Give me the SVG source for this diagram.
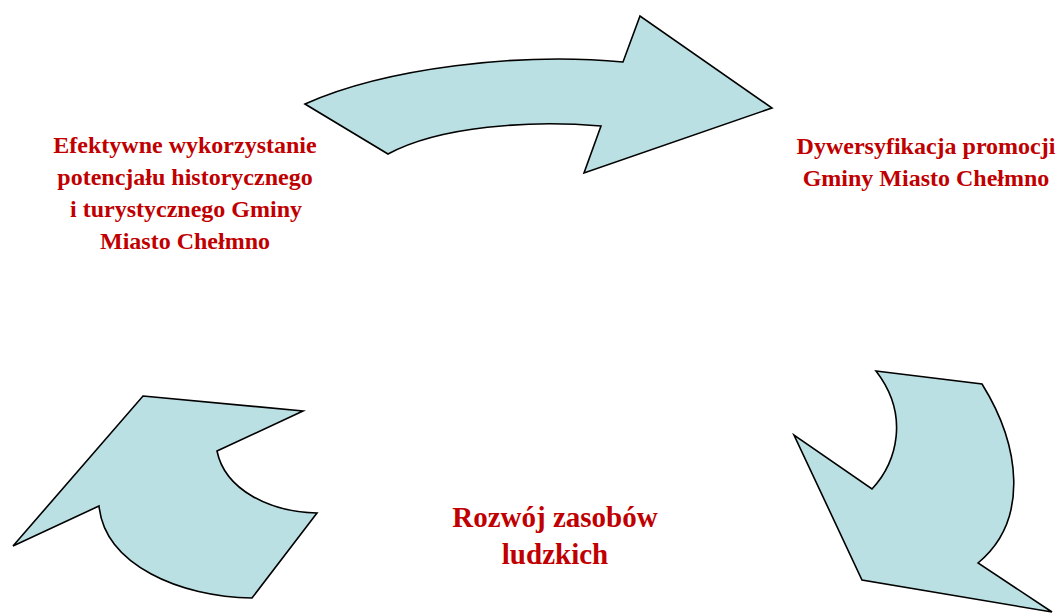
<svg xmlns="http://www.w3.org/2000/svg" width="1058" height="615" viewBox="0 0 1058 615">
<style>
.arrow{fill:#BBE0E3;stroke:#000;stroke-width:1.6;stroke-linejoin:miter}
.lbl{font-family:"Liberation Serif","Times New Roman",serif;font-weight:bold;fill:#C00000;text-anchor:middle}
.s{font-size:24px}
.l{font-size:29px}
</style>
<rect width="1058" height="615" fill="#fff"/>
<g id="connectors">
<path id="arrow-top" class="arrow" d="M305,104 C385,68 520,52 623,62 L640,16 L772,108 L584,173 L601,126 C530,120 440,126 388,154 Z"/>
<path id="arrow-right" class="arrow" d="M876,371 L982,384 C1020,445 1030,520 978,563 L1052,612 L862,580 L794,435 L872,489 C897,462 910,415 876,371 Z"/>
<path id="arrow-left" class="arrow" d="M143,396 L303,411 L217,451 C225,490 270,512 317,513 L252,598 C180,597 105,565 99,506 L13,546 Z"/>
</g>
<g id="node-left">
<text class="lbl s" x="185" y="153">Efektywne wykorzystanie</text>
<text class="lbl s" x="185" y="185">potencjału historycznego</text>
<text class="lbl s" x="186" y="217">i turystycznego Gminy</text>
<text class="lbl s" x="185" y="249">Miasto Chełmno</text>
</g>
<g id="node-right">
<text class="lbl s" x="926" y="154">Dywersyfikacja promocji</text>
<text class="lbl s" x="926" y="186">Gminy Miasto Chełmno</text>
</g>
<g id="node-bottom">
<text class="lbl l" x="555" y="527">Rozwój zasobów</text>
<text class="lbl l" x="555" y="564">ludzkich</text>
</g>
</svg>
